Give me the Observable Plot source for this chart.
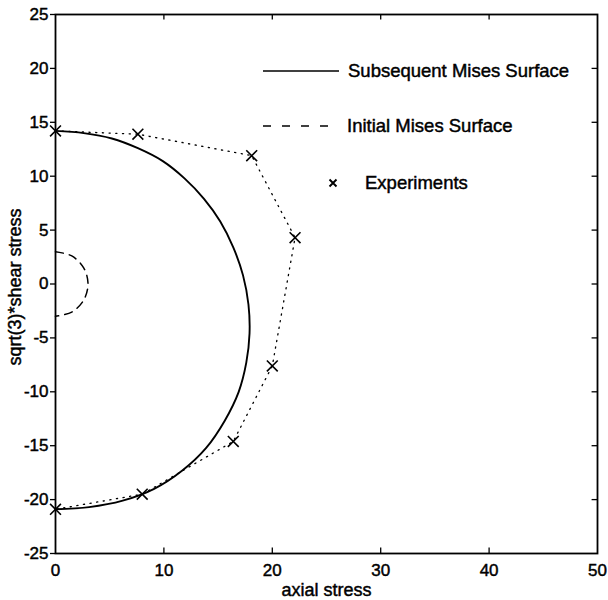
<!DOCTYPE html>
<html><head><meta charset="utf-8">
<script src="https://cdn.jsdelivr.net/npm/d3@7"></script>
<script src="https://cdn.jsdelivr.net/npm/@observablehq/plot@0.6"></script>
<style>
body{margin:0;background:#fff;}
#wrap{position:relative;width:608px;height:600px;font-family:"Liberation Sans",Arial,Helvetica,sans-serif;}
#legend{position:absolute;left:0;top:0;pointer-events:none;}
svg text{stroke:black;stroke-width:0.45px;paint-order:stroke;}
</style></head><body><div id="wrap"></div>
<script>
// ---- data ----
const xTicks = [0, 10, 20, 30, 40, 50];
const yTicks = [-25, -20, -15, -10, -5, 0, 5, 10, 15, 20, 25];
const xLabel = "axial stress";
const yLabel = "sqrt(3)*shear stress";

// subsequent Mises surface (solid)
const subsequentX = [0, 2.6, 5.2, 7.6, 9.9, 11.9, 13.7, 15.2, 16.4, 17.3, 17.8, 17.9, 17.6, 16.9, 15.6, 13.9, 11.7, 9.1, 6.2, 3.1, 0];
const subsequentY = [14.2, 14.0, 13.5, 12.6, 11.4, 9.8, 7.9, 5.8, 3.4, 0.8, -1.9, -4.6, -7.3, -10.0, -12.7, -15.2, -17.3, -19.0, -20.1, -20.7, -20.9];

// initial Mises surface (dashed)
const initialX = [0, 1.5, 2.6, 3.0, 2.6, 1.5, 0];
const initialY = [3.0, 2.6, 1.5, 0, -1.5, -2.6, -3.0];

// experiments (x markers, dotted connection)
const expX = [0, 7.6, 18.1, 22.1, 20.0, 16.4, 8.0, 0];
const expY = [14.2, 13.9, 11.9, 4.3, -7.6, -14.6, -19.5, -20.9];

const legendLabels = ["Subsequent Mises Surface", "Initial Mises Surface", "Experiments"];

// ---- build ----
const zip = (xs, ys) => xs.map((x, i) => ({x, y: ys[i]}));
const subsequent = zip(subsequentX, subsequentY);
const initial = zip(initialX, initialY);
const experiments = zip(expX, expY);
const xDom = [xTicks[0], xTicks[xTicks.length - 1]];
const yDom = [yTicks[0], yTicks[yTicks.length - 1]];
const innerX = xTicks.slice(1, -1);
const innerY = yTicks.slice(1, -1);
const tl = 0.5; // inward tick length in data units
const fmt = d => String(d);
const font = '"Liberation Sans",Arial,Helvetica,sans-serif';

const chart = Plot.plot({
  width: 608,
  height: 600,
  marginLeft: 55,
  marginRight: 11,
  marginTop: 14,
  marginBottom: 47,
  x: {domain: xDom},
  y: {domain: yDom},
  style: {fontFamily: font, fontSize: "17px", color: "black", background: "white"},
  marks: [
    Plot.axisX({ticks: xTicks, tickSize: 0, tickPadding: 10, tickFormat: fmt, label: null, fontSize: 17}),
    Plot.axisY({ticks: yTicks, tickSize: 5, tickPadding: 2, tickFormat: fmt, label: null, fontSize: 17, strokeWidth: 1.3}),
    Plot.ruleX(innerX, {x: d => d, y1: yDom[0], y2: yDom[0] + tl, stroke: "black", strokeWidth: 1.3}),
    Plot.ruleX(innerX, {x: d => d, y1: yDom[1], y2: yDom[1] - tl, stroke: "black", strokeWidth: 1.3}),
    Plot.ruleY(innerY, {y: d => d, x1: xDom[1], x2: xDom[1] - tl, stroke: "black", strokeWidth: 1.3}),
    Plot.line(experiments, {x: "x", y: "y", stroke: "black", strokeWidth: 1.3, strokeDasharray: "1.2,5.5", strokeLinecap: "round"}),
    Plot.line(subsequent, {x: "x", y: "y", curve: "catmull-rom", stroke: "black", strokeWidth: 1.9}),
    Plot.line(initial, {x: "x", y: "y", curve: "catmull-rom", stroke: "black", strokeWidth: 1.5, strokeDasharray: "8,6"}),
    Plot.dot(experiments, {x: "x", y: "y", symbol: "times", r: 5, stroke: "black", strokeWidth: 1.6, clip: false}),
    Plot.frame({stroke: "black", strokeWidth: 1.8}),
    Plot.text([xLabel], {text: d => d, frameAnchor: "bottom", dy: 37, fontSize: 18, textAnchor: "middle", lineAnchor: "middle"}),
    Plot.text([yLabel], {text: d => d, frameAnchor: "left", dx: -40, dy: 3, rotate: -90, fontSize: 18, textAnchor: "middle", lineAnchor: "middle"})
  ]
});
const wrap = document.getElementById("wrap");
wrap.appendChild(chart);

// legend inside the axes (as in the reference)
const ns = "http://www.w3.org/2000/svg";
const lg = document.createElementNS(ns, "svg");
lg.setAttribute("id", "legend");
lg.setAttribute("width", 608);
lg.setAttribute("height", 600);
const rows = [
  {y: 71, dash: null, textX: 348},
  {y: 126, dash: "8,11", textX: 347},
  {y: 183, marker: true, textX: 365}
];
rows.forEach((r, i) => {
  if (r.marker) {
    const p = document.createElementNS(ns, "path");
    p.setAttribute("d", `M${333-3.5},${r.y-3.5}L${333+3.5},${r.y+3.5}M${333-3.5},${r.y+3.5}L${333+3.5},${r.y-3.5}`);
    p.setAttribute("stroke", "black"); p.setAttribute("stroke-width", "1.9");
    lg.appendChild(p);
  } else {
    const l = document.createElementNS(ns, "line");
    l.setAttribute("x1", 263); l.setAttribute("x2", 339);
    l.setAttribute("y1", r.y); l.setAttribute("y2", r.y);
    l.setAttribute("stroke", "black"); l.setAttribute("stroke-width", "1.5");
    if (r.dash) l.setAttribute("stroke-dasharray", r.dash);
    lg.appendChild(l);
  }
  const t = document.createElementNS(ns, "text");
  t.setAttribute("x", r.textX); t.setAttribute("y", r.y);
  t.setAttribute("dy", "0.35em");
  t.setAttribute("font-family", font);
  t.setAttribute("font-size", "18.5");
  t.textContent = legendLabels[i];
  lg.appendChild(t);
});
wrap.appendChild(lg);
</script></body></html>
